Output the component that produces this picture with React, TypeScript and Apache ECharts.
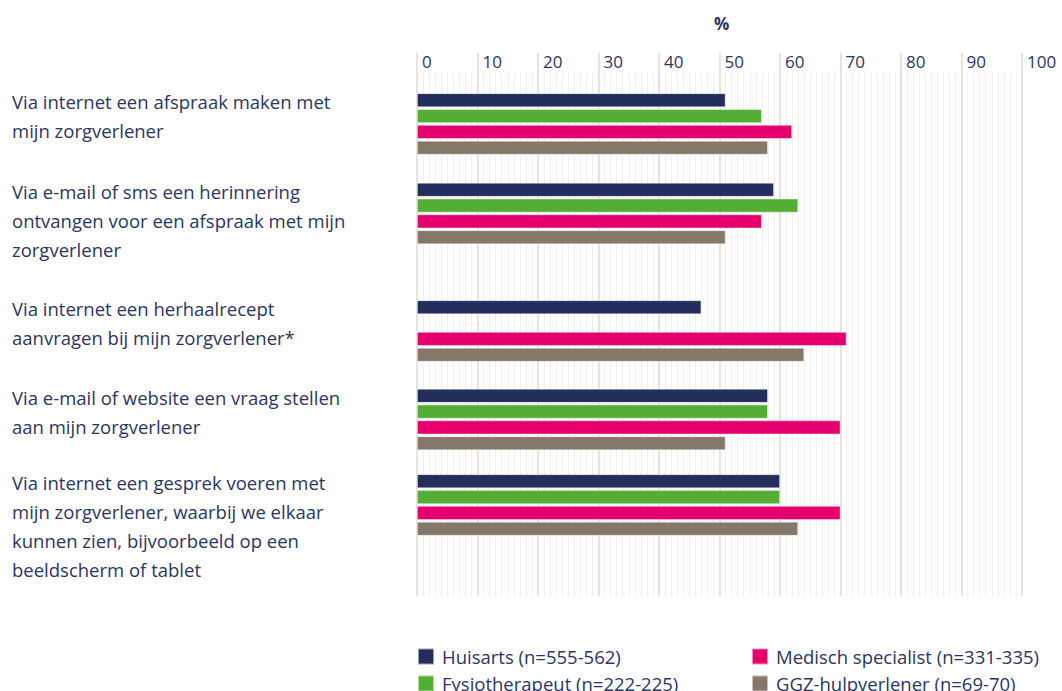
import React, { useEffect, useRef } from "react";
import * as echarts from "echarts";

const categories = [
  "Via internet een afspraak maken met\nmijn zorgverlener",
  "Via e-mail of sms een herinnering\nontvangen voor een afspraak met mijn\nzorgverlener",
  "Via internet een herhaalrecept\naanvragen bij mijn zorgverlener*",
  "Via e-mail of website een vraag stellen\naan mijn zorgverlener",
  "Via internet een gesprek voeren met\nmijn zorgverlener, waarbij we elkaar\nkunnen zien, bijvoorbeeld op een\nbeeldscherm of tablet",
];

const seriesNames = [
  "Huisarts (n=555-562)",
  "Fysiotherapeut (n=222-225)",
  "Medisch specialist (n=331-335)",
  "GGZ-hulpverlener (n=69-70)",
];

const huisarts = [51, 59, 47, 58, 60];
const fysiotherapeut = [57, 63, null, 58, 60];
const medischSpecialist = [62, 57, 71, 70, 70];
const ggzHulpverlener = [58, 51, 64, 51, 63];

const xTicks = [0, 10, 20, 30, 40, 50, 60, 70, 80, 90, 100];
const axisTitle = "%";

// layout (not data)
const groupTops = [93, 182.5, 300, 388.5, 474];
const legendPos = [
  { left: 417, top: 647 },
  { left: 417, top: 674 },
  { left: 751, top: 647 },
  { left: 751, top: 674 },
];
const colors = ["#232e5c", "#53ae34", "#e5006d", "#867869"];
const textColor = "#2b3563";
const font = "'Open Sans', sans-serif";

export default function App() {
  const ref = useRef<HTMLDivElement>(null);
  useEffect(() => {
    if (!ref.current) return;
    const chart = echarts.init(ref.current, undefined, { renderer: "svg" });
    const values = [huisarts, fysiotherapeut, medischSpecialist, ggzHulpverlener];

    const grids: any[] = [
      { left: 417, width: 605, top: 73, bottom: 95, containLabel: false },
    ];
    const xAxes: any[] = [
      {
        gridIndex: 0,
        type: "value",
        position: "top",
        min: xTicks[0],
        max: xTicks[xTicks.length - 1],
        interval: xTicks[1] - xTicks[0],
        axisLine: { show: false },
        axisTick: { show: true, inside: false, length: 20, lineStyle: { color: "#e0dad4", width: 1.5 } },
        axisLabel: {
          show: true,
          align: "left",
          verticalAlign: "bottom",
          margin: 3,
          padding: [0, 0, 0, 5],
          color: textColor,
          fontFamily: font,
          fontSize: 17,
        },
        splitLine: { show: true, lineStyle: { color: "#e0dad4", width: 1.5 } },
        minorTick: { show: false, splitNumber: 10 },
        minorSplitLine: { show: true, lineStyle: { color: "#f2efec", width: 1 } },
      },
    ];
    const yAxes: any[] = [
      { gridIndex: 0, type: "category", data: [""], show: false },
    ];
    const series: any[] = [];

    categories.forEach((cat, g) => {
      grids.push({ left: 417, width: 605, top: groupTops[g], height: 62, containLabel: false });
      xAxes.push({
        gridIndex: g + 1,
        type: "value",
        min: 0,
        max: 100,
        show: false,
      });
      yAxes.push({
        gridIndex: g + 1,
        type: "category",
        inverse: true,
        data: [cat],
        axisLine: { show: false },
        axisTick: { show: false },
        splitLine: { show: false },
        axisLabel: {
          show: true,
          align: "left",
          verticalAlign: "top",
          margin: 405,
          padding: [-37, 0, 0, 0],
          lineHeight: 29,
          color: textColor,
          fontFamily: font,
          fontSize: 18.5,
        },
      });
      values.forEach((vals, p) => {
        series.push({
          name: seriesNames[p],
          type: "bar",
          xAxisIndex: g + 1,
          yAxisIndex: g + 1,
          data: [vals[g]],
          barWidth: 14,
          barGap: "13%",
          itemStyle: { color: colors[p], borderColor: "rgba(255,255,255,0.55)", borderWidth: 0.8 },
        });
      });
    });

    const legends = seriesNames.map((name, i) => ({
      left: legendPos[i].left,
      top: legendPos[i].top,
      orient: "horizontal",
      icon: "rect",
      itemWidth: 16,
      itemHeight: 16,
      padding: 0,
      data: [name],
      textStyle: { color: textColor, fontFamily: font, fontSize: 18.5, padding: [0, 0, 0, 3] },
      selectedMode: false,
    }));

    chart.setOption({
      animation: false,
      color: colors,
      title: {
        text: axisTitle,
        left: 709,
        top: 10,
        textStyle: { color: textColor, fontFamily: font, fontSize: 17, fontWeight: "bold" },
      },
      legend: legends,
      grid: grids,
      xAxis: xAxes,
      yAxis: yAxes,
      series,
    });
    return () => chart.dispose();
  }, []);
  return (
    <div
      ref={ref}
      style={{ position: "absolute", left: 0, top: 0, width: 1062, height: 691, background: "#fff" }}
    />
  );
}
